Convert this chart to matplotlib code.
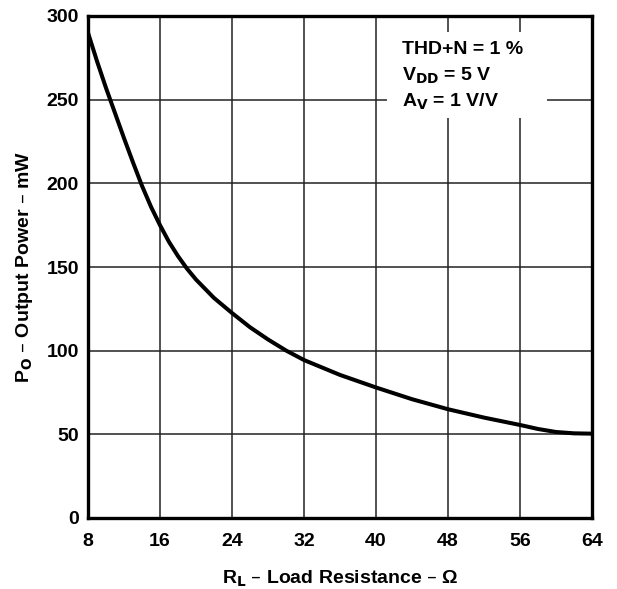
import matplotlib
matplotlib.use("Agg")
import matplotlib.pyplot as plt
from matplotlib.patches import Rectangle

plt.rcParams['font.family'] = ['Liberation Sans', 'DejaVu Sans']
plt.rcParams['font.weight'] = 'bold'
plt.rcParams['mathtext.default'] = 'bf'

# load resistance (ohm) vs output power (mW)
r_load = [8, 9, 10, 11, 12, 13, 14, 15, 16, 17, 18, 19, 20, 22, 24, 26, 28, 30, 32,
          36, 40, 44, 48, 52, 56, 58, 60, 62, 64]
p_out = [290, 273, 257, 242, 227, 212.5, 198.5, 186, 175, 165, 156.5, 149, 142.5, 131.5, 122.5, 114, 106.7, 100.1, 94.4,
         85.5, 78, 71, 65, 60, 55.6, 53.2, 51.4, 50.6, 50.4]

x_ticks = [8, 16, 24, 32, 40, 48, 56, 64]
y_ticks = [0, 50, 100, 150, 200, 250, 300]
note_lines = ['THD+N = 1 %', r'V$_{DD}$ = 5 V', r'A$_{V}$ = 1 V/V']

fig = plt.figure(figsize=(6.17, 5.89), dpi=100)
ax = fig.add_axes([88 / 617, (589 - 518) / 589, 504 / 617, 502 / 589])

ax.plot(r_load, p_out, color='black', lw=2.9, solid_capstyle='butt', zorder=3)

ax.set_xlim(8, 64)
ax.set_ylim(0, 300)
ax.set_xticks(x_ticks)
ax.set_yticks(y_ticks)
ax.tick_params(length=0, labelsize=14)
ax.tick_params(axis='x', pad=11)
ax.tick_params(axis='y', pad=6.5)
for lbl in ax.get_xticklabels() + ax.get_yticklabels():
    lbl.set_fontweight('bold')
ax.grid(True, color='#222222', lw=1.1)
ax.set_axisbelow(True)
for s in ax.spines.values():
    s.set_linewidth(2.4)

ax.set_xlabel(r'R$_{L}$ – Load Resistance – Ω', fontsize=14, fontweight='bold', labelpad=13)
ax.set_ylabel(r'P$_{O}$ – Output Power – mW', fontsize=14, fontweight='bold', labelpad=8)

# white patch behind the conditions note
ax.add_patch(Rectangle((0.593, 0.797), 0.318, 0.171, transform=ax.transAxes,
                       facecolor='white', edgecolor='none', zorder=2))
for i, line in enumerate(note_lines):
    ax.text(0.6224, 0.9237 - i * 0.0525, line, transform=ax.transAxes,
            ha='left', va='baseline', fontsize=14, fontweight='bold', zorder=4)

fig.savefig('out.png', dpi=100)
